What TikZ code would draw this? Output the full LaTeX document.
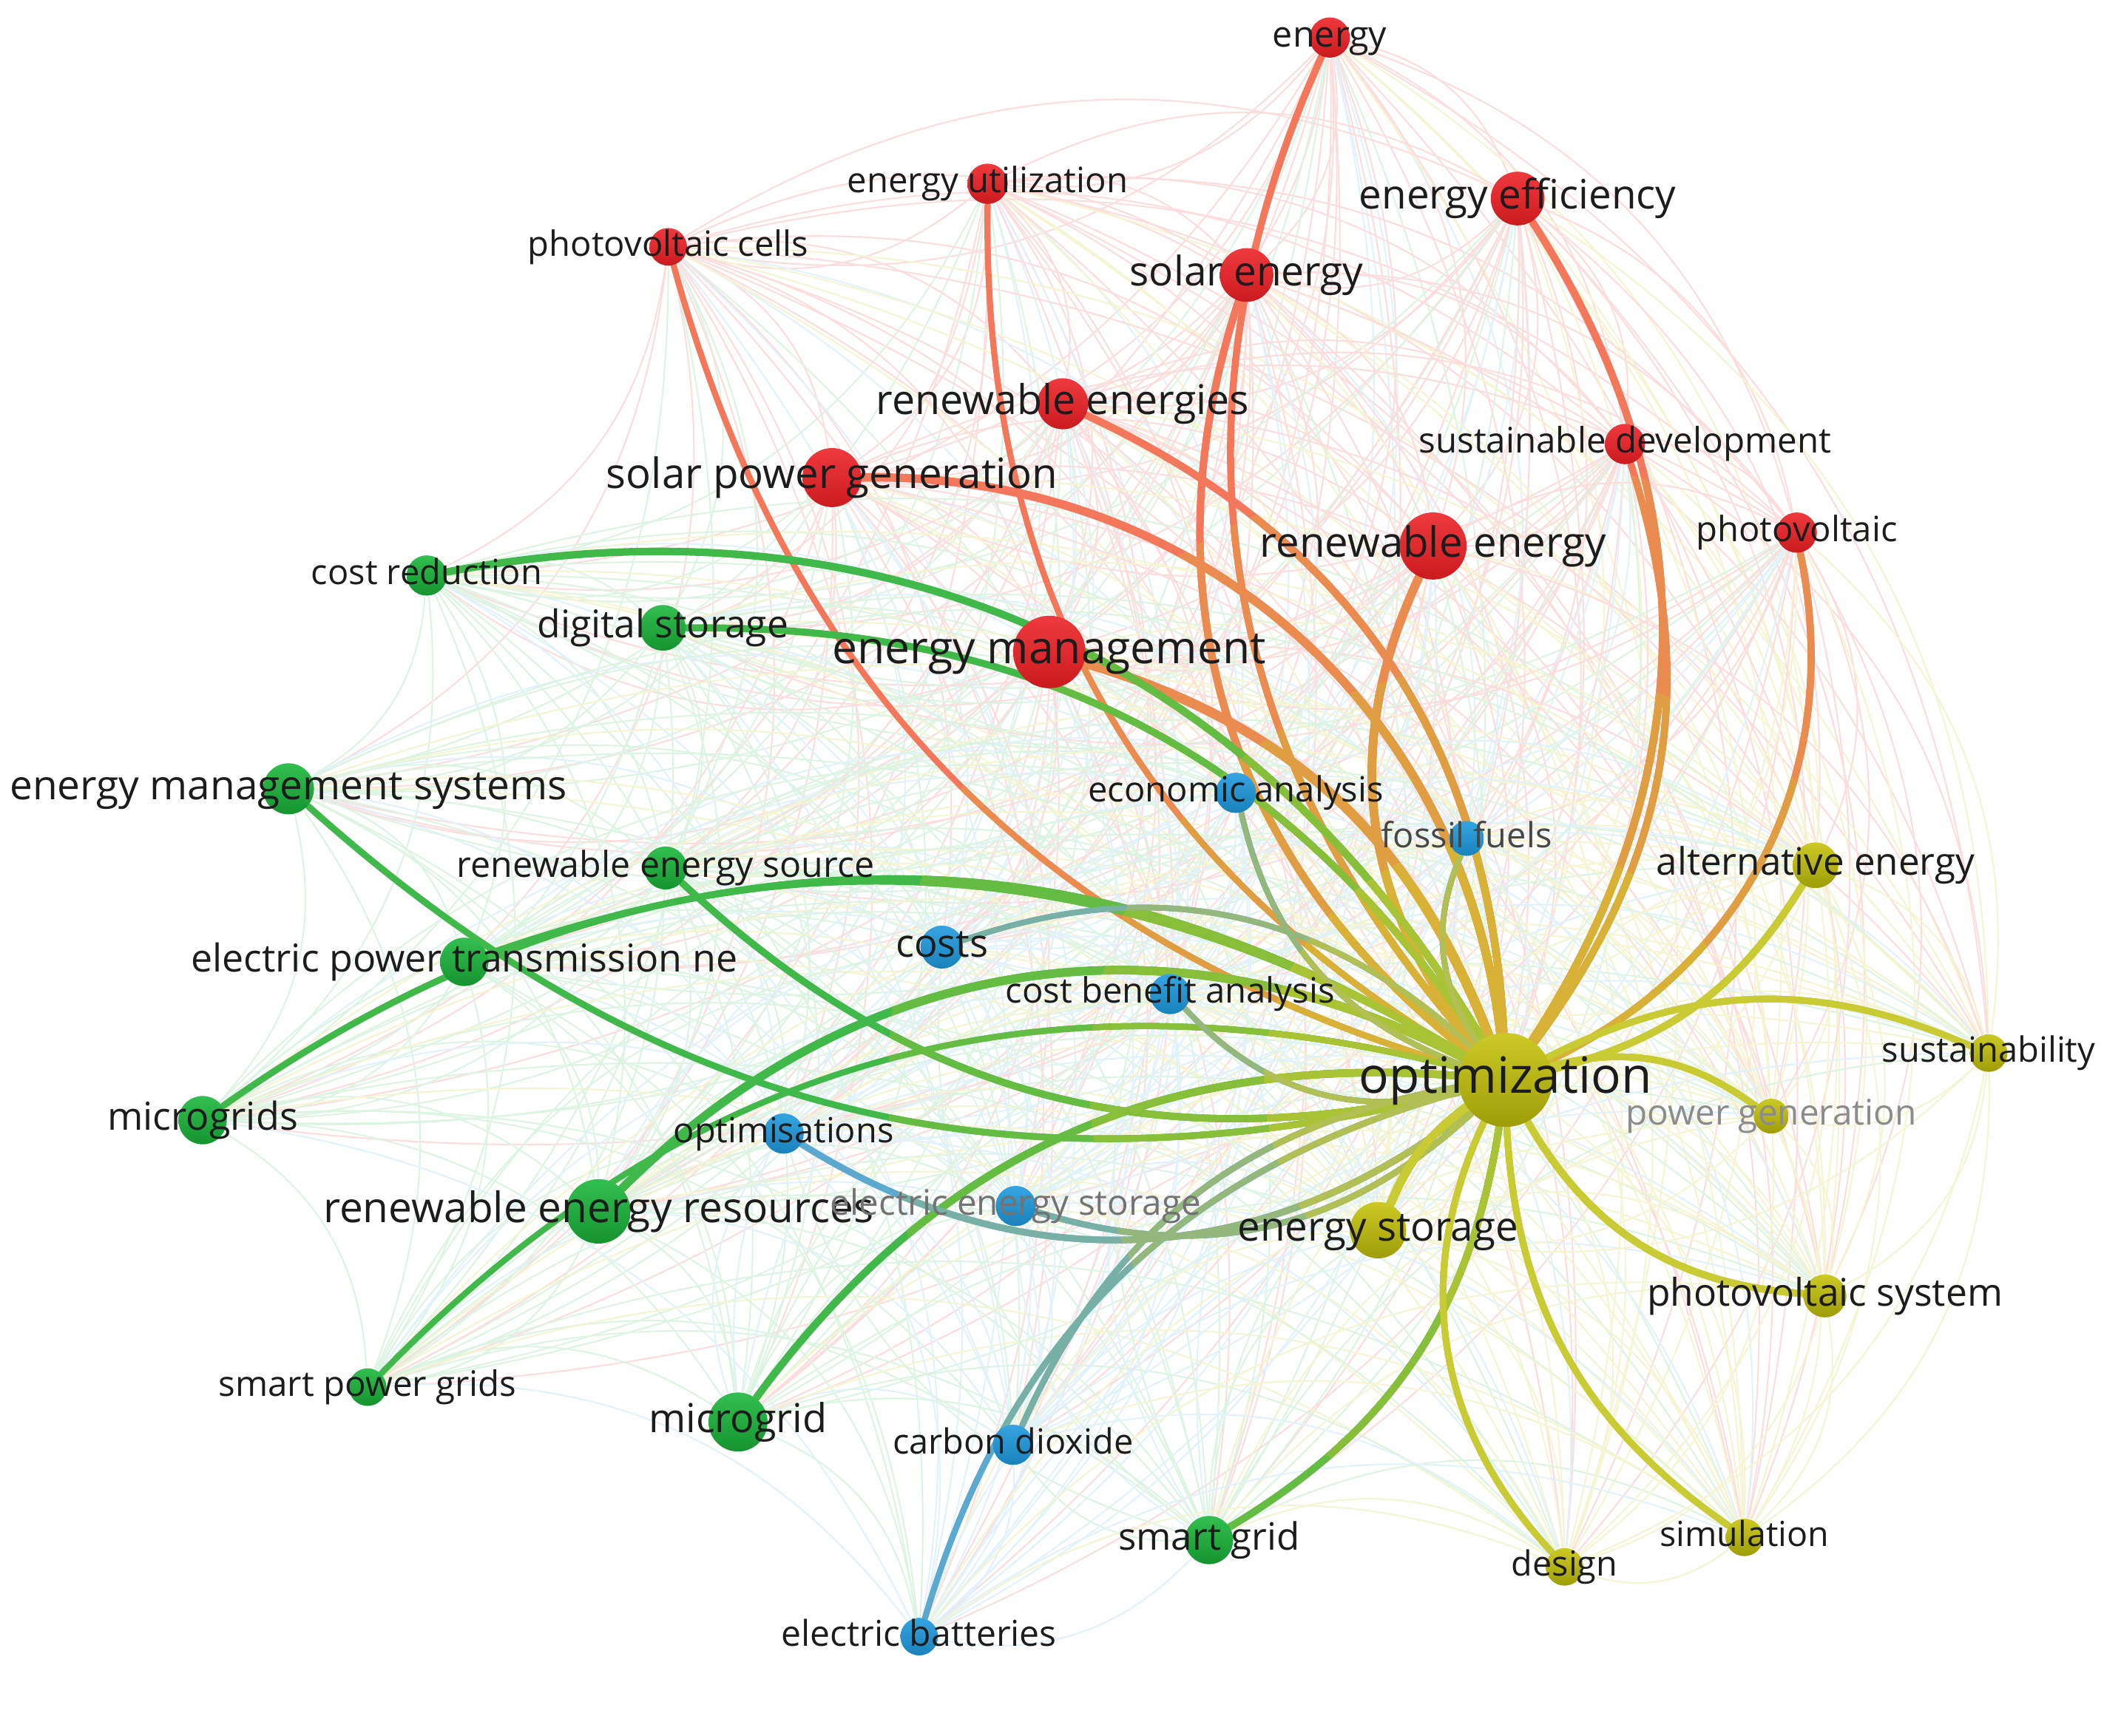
\documentclass[tikz,border=0pt]{standalone}
\usepackage{fontspec}
\setmainfont{Open Sans}
\usepackage{graphicx}
\pgfdeclarelayer{faintlayer}
\pgfdeclarelayer{thicklayer}
\pgfdeclarelayer{labellayer}
\pgfsetlayers{faintlayer,thicklayer,main,labellayer}

\definecolor{kred}{HTML}{EC1F24}
\definecolor{kgreen}{HTML}{1BB83C}
\definecolor{kblue}{HTML}{1F9ADE}
\definecolor{kyellow}{HTML}{C6C40C}
\definecolor{ered}{HTML}{F3775A}
\definecolor{egreen}{HTML}{40B94A}
\definecolor{eblue}{HTML}{5BA9CF}
\definecolor{eyellow}{HTML}{C9CB35}
\definecolor{ecenter}{HTML}{CEC62C}
\colorlet{fkred}{kred!15!white}
\colorlet{fkgreen}{kgreen!15!white}
\colorlet{fkblue}{kblue!13!white}
\colorlet{fkyellow}{kyellow!18!white}
\definecolor{lbltext}{HTML}{1C1C1C}

\tikzset{
  kwnode/.style={circle, inner sep=0pt, draw=none},
  nkred/.style={top color=kred!88!white, bottom color=kred!86!black},
  nkgreen/.style={top color=kgreen!90!white, bottom color=kgreen!80!black},
  nkblue/.style={top color=kblue!90!white, bottom color=kblue!84!black},
  nkyellow/.style={top color=kyellow!90!white, bottom color=kyellow!80!black},
  lbl/.style={inner sep=0pt, text=lbltext},
  lblfossil/.style={lbl, text=black!72},
  lblees/.style={lbl, text=black!55},
  lblpg/.style={lbl, text=black!45},
  faintedge/.style={line width=0.32pt},
}

% #1 label style, #2 name, #3 x, #4 y, #5 radius, #6 cluster, #7 label width (cm), #8 text
\newcommand\kw[8][lbl]{%
  \expandafter\gdef\csname kc@#2\endcsname{#6}%
  \node[kwnode, n#6, minimum size=#5*0.02cm] (#2) at (#3,#4) {};%
  \begin{pgfonlayer}{labellayer}%
    \node[#1] (#2-l) at (#3,#4) {\resizebox{#7cm}{!}{\vphantom{dg}#8}};%
  \end{pgfonlayer}%
}

\def\kwlist{energy,enutil,pvcells,eneff,solen,renews,susdev,spg,renew,pv,enmgmt,costred,digst,ems,res,ept,mgrids,rer,spgrids,mgrid,sgrid,econ,fossil,costs,cba,optims,ees,co2,batt,opt,alten,sust,powgen,enst,pvsys,sim,design}

\newcommand\thickedges[1]{%
  \tikzset{Er/.style={draw=ered!#1!ecenter, line cap=round},
           Eg/.style={draw=egreen!#1!ecenter, line cap=round},
           Eb/.style={draw=eblue!#1!ecenter, line cap=round},
           Ey/.style={draw=eyellow, line cap=round}}%
  \draw[Er,line width=1.5pt] (energy) to[bend right=33] (opt);
  \draw[Er,line width=1.6pt] (solen) to[bend right=35] (opt);
  \draw[Er,line width=1.3pt] (enutil) to[bend right=30] (opt);
  \draw[Er,line width=1.3pt] (pvcells) to[bend right=29] (opt);
  \draw[Er,line width=1.8pt] (spg) to[bend left=42] (opt);
  \draw[Er,line width=1.6pt] (renews) to[bend left=31] (opt);
  \draw[Er,line width=1.6pt] (eneff) to[bend left=33] (opt);
  \draw[Er,line width=1.5pt] (susdev) to[bend left=27] (opt);
  \draw[Er,line width=1.8pt] (renew) to[bend right=32] (opt);
  \draw[Er,line width=1.5pt] (pv) to[bend left=38] (opt);
  \draw[Er,line width=2pt] (enmgmt) to[bend left=26] (opt);
  \draw[Eg,line width=1.6pt] (costred) to[bend left=35] (opt);
  \draw[Eg,line width=1.5pt] (digst) to[bend left=28] (opt);
  \draw[Eg,line width=1.4pt] (ems) to[bend right=28] (opt);
  \draw[Eg,line width=1.5pt] (res) to[bend right=28] (opt);
  \draw[Eg,line width=1.4pt] (ept) to[bend left=25] (opt);
  \draw[Eg,line width=1.4pt] (mgrids) to[bend left=33] (opt);
  \draw[Eg,line width=1.8pt] (rer) to[bend left=36] (opt);
  \draw[Eg,line width=1.3pt] (spgrids) to[bend left=30] (opt);
  \draw[Eg,line width=1.6pt] (mgrid) to[bend left=29] (opt);
  \draw[Eg,line width=1.5pt] (sgrid) to[bend right=25] (opt);
  \draw[Eb,line width=1.2pt] (econ) to[bend right=28] (opt);
  \draw[Eb,line width=1.2pt] (fossil) to[bend right=28] (opt);
  \draw[Eb,line width=1.2pt] (costs) to[bend left=31] (opt);
  \draw[Eb,line width=1.2pt] (cba) to[bend right=30] (opt);
  \draw[Eb,line width=1.4pt] (optims) to[bend right=35] (opt);
  \draw[Eb,line width=1.3pt] (ees) to[bend right=30] (opt);
  \draw[Eb,line width=1.3pt] (co2) to[bend left=28] (opt);
  \draw[Eb,line width=1.3pt] (batt) to[bend left=29] (opt);
  \draw[Ey,line width=1.5pt] (alten) to[bend left=22] (opt);
  \draw[Ey,line width=1.4pt] (sust) to[bend right=25] (opt);
  \draw[Ey,line width=1.4pt] (powgen) to[bend right=25] (opt);
  \draw[Ey,line width=1.8pt] (enst) to[bend left=15] (opt);
  \draw[Ey,line width=1.5pt] (pvsys) to[bend left=28] (opt);
  \draw[Ey,line width=1.4pt] (sim) to[bend left=26] (opt);
  \draw[Ey,line width=1.4pt] (design) to[bend left=34] (opt);
}

\begin{document}
\begin{tikzpicture}[x=0.01cm, y=-0.01cm]
\useasboundingbox (0,0) rectangle (1568,1294);

% keywords: red cluster
\kw{energy}{991}{28}{15}{kred}{0.85}{energy}
\kw{enutil}{736}{137}{15}{kred}{2.09}{energy utilization}
\kw{pvcells}{498}{184}{14}{kred}{2.09}{photovoltaic cells}
\kw{eneff}{1131}{148}{20}{kred}{2.36}{energy efficiency}
\kw{solen}{929}{205}{20}{kred}{1.74}{solar energy}
\kw{renews}{792}{301}{19}{kred}{2.78}{renewable energies}
\kw{susdev}{1211}{331}{15}{kred}{3.07}{sustainable development}
\kw{spg}{620}{356}{22}{kred}{3.36}{solar power generation}
\kw{renew}{1068}{407}{25}{kred}{2.58}{renewable energy}
\kw{pv}{1339}{397}{15}{kred}{1.50}{photovoltaic}
\kw{enmgmt}{782}{486}{27}{kred}{3.23}{energy management}
% green cluster
\kw{costred}{318}{429}{15}{kgreen}{1.72}{cost reduction}
\kw{digst}{494}{468}{17}{kgreen}{1.87}{digital storage}
\kw{ems}{215}{588}{19}{kgreen}{4.15}{energy management systems}
\kw{res}{496}{647}{16}{kgreen}{3.11}{renewable energy source}
\kw{ept}{346}{717}{18}{kgreen}{4.07}{electric power transmission ne}
\kw{mgrids}{151}{835}{18}{kgreen}{1.42}{microgrids}
\kw{rer}{446}{903}{24}{kgreen}{4.10}{renewable energy resources}
\kw{spgrids}{274}{1034}{14}{kgreen}{2.22}{smart power grids}
\kw{mgrid}{550}{1060}{22}{kgreen}{1.33}{microgrid}
\kw{sgrid}{901}{1148}{18}{kgreen}{1.35}{smart grid}
% blue cluster
\kw{econ}{921}{591}{15}{kblue}{2.20}{economic analysis}
\kw[lblfossil]{fossil}{1093}{625}{13}{kblue}{1.27}{fossil fuels}
\kw{costs}{702}{706}{16}{kblue}{0.69}{costs}
\kw{cba}{872}{741}{15}{kblue}{2.45}{cost benefit analysis}
\kw{optims}{584}{845}{15}{kblue}{1.64}{optimisations}
\kw[lblees]{ees}{757}{899}{15}{kblue}{2.76}{electric energy storage}
\kw{co2}{755}{1077}{15}{kblue}{1.79}{carbon dioxide}
\kw{batt}{685}{1220}{14}{kblue}{2.05}{electric batteries}
% yellow cluster
\kw{opt}{1122}{805}{35}{kyellow}{2.18}{optimization}
\kw{alten}{1353}{645}{17}{kyellow}{2.37}{alternative energy}
\kw{sust}{1482}{785}{14}{kyellow}{1.59}{sustainability}
\kw[lblpg]{powgen}{1320}{832}{13}{kyellow}{2.17}{power generation}
\kw{enst}{1027}{917}{21}{kyellow}{2.09}{energy storage}
\kw{pvsys}{1360}{966}{16}{kyellow}{2.65}{photovoltaic system}
\kw{sim}{1300}{1146}{14}{kyellow}{1.26}{simulation}
\kw{design}{1166}{1168}{14}{kyellow}{0.79}{design}

% faint background links
\begin{pgfonlayer}{faintlayer}
\fill[white] (0,0) rectangle (1568,1294);
\foreach \a [count=\i] in \kwlist {
  \foreach \b [count=\j] in \kwlist {
    \ifnum\i<\j
      \ifodd\numexpr\i+\j\relax
        \edef\fc{\csname kc@\a\endcsname}%
      \else
        \edef\fc{\csname kc@\b\endcsname}%
      \fi
      \draw[faintedge, draw=f\fc] (\a) to[bend left=28] (\b);
    \fi
  }
}
\end{pgfonlayer}

% highlighted links of "optimization", colour fading towards it
\begin{pgfonlayer}{thicklayer}
\thickedges{100}
\begin{scope}
  \clip (opt) circle (4.6cm);
  \thickedges{75}
\end{scope}
\begin{scope}
  \clip (opt) circle (3.1cm);
  \thickedges{50}
\end{scope}
\begin{scope}
  \clip (opt) circle (1.8cm);
  \thickedges{25}
\end{scope}
\end{pgfonlayer}
\end{tikzpicture}
\end{document}
